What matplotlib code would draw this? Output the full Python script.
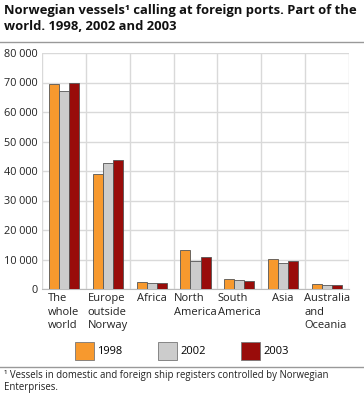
import matplotlib
matplotlib.use('Agg')
import matplotlib.pyplot as plt
import numpy as np
from matplotlib.patches import Patch
from matplotlib.lines import Line2D

categories = ['The\nwhole\nworld', 'Europe\noutside\nNorway', 'Africa', 'North\nAmerica',
              'South\nAmerica', 'Asia', 'Australia\nand\nOceania']
v1998 = [69600, 38900, 2500, 13200, 3500, 10150, 1700]
v2002 = [67200, 42600, 2150, 9600, 3050, 8900, 1350]
v2003 = [69700, 43700, 1900, 10800, 2800, 9500, 1300]
years = ['1998', '2002', '2003']
colors = ['#f7992e', '#cccccc', '#990c0a']

plt.rcParams['font.family'] = ['Open Sans', 'DejaVu Sans']

fig = plt.figure(figsize=(3.64, 3.98), dpi=100)
ax = fig.add_axes([42 / 364, 1 - 289 / 398, 307 / 364, 236 / 398])

x = np.arange(len(categories))
w = 0.23
for i, (vals, c) in enumerate(zip([v1998, v2002, v2003], colors)):
    ax.bar(x + (i - 1) * w, vals, w, color=c, edgecolor='#555555', linewidth=0.6, zorder=3)

ax.set_xlim(-0.5, len(categories) - 0.5)
ax.set_ylim(0, 80000)
ax.set_yticks(np.arange(0, 80001, 10000))
ax.set_yticklabels([f'{int(v):,}'.replace(',', ' ') for v in np.arange(0, 80001, 10000)],
                   fontsize=7.8, color='#222222')
ax.set_xticks(x)
ax.set_xticklabels(categories, fontsize=8, color='#222222', linespacing=1.3, va='top',
                   multialignment='left')
ax.set_xticks(np.arange(-0.5, len(categories), 1), minor=True)
ax.tick_params(axis='both', which='both', length=0, pad=3)
ax.grid(axis='y', color='#d9d9d9', linewidth=1, zorder=0)
ax.grid(axis='x', which='minor', color='#d9d9d9', linewidth=1, zorder=0)
ax.grid(axis='x', which='major', visible=False)
for s in ['top', 'right', 'left']:
    ax.spines[s].set_visible(False)
ax.spines['bottom'].set_color('#bbbbbb')

fig.text(0.012, 0.99, 'Norwegian vessels\u00b9 calling at foreign ports. Part of the\nworld. 1998, 2002 and 2003',
         fontsize=9.4, fontweight='bold', va='top', ha='left', linespacing=1.3, color='#111111')
fig.add_artist(Line2D([0, 1], [1 - 42 / 398, 1 - 42 / 398], color='#999999', linewidth=1))
fig.add_artist(Line2D([0, 1], [1 - 367 / 398, 1 - 367 / 398], color='#999999', linewidth=1))

handles = [Patch(facecolor=c, edgecolor='#777777', linewidth=0.6) for c in colors]
fig.legend(handles, years, loc='center', bbox_to_anchor=(0.5, 1 - 351 / 398), ncol=3,
           frameon=False, fontsize=8, handlelength=1.7, handleheight=2.2,
           handletextpad=0.3, columnspacing=3.2)

fig.text(0.012, 1 - 370 / 398, '\u00b9 Vessels in domestic and foreign ship registers controlled by Norwegian\nEnterprises.',
         fontsize=6.9, va='top', ha='left', color='#222222', linespacing=1.15)

fig.savefig('out.png', dpi=100)
